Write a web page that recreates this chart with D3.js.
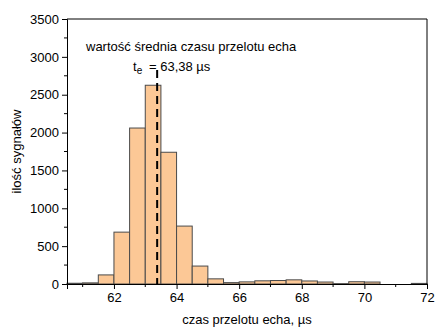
<!DOCTYPE html>
<html>
<head>
<meta charset="utf-8">
<script src="https://cdn.jsdelivr.net/npm/d3@7"></script>
<style>
  body { margin: 0; background: #fff; }
  svg text { font-family: "Liberation Sans", Arial, sans-serif; fill: #000; }
</style>
</head>
<body>
<script>
// histogram bins (left edge, width 0.5 us) and counts
var binStarts = [60.5, 61, 61.5, 62, 62.5, 63, 63.5, 64, 64.5, 65, 65.5, 66, 66.5,
                 67, 67.5, 68, 68.5, 69, 69.5, 70, 70.5, 71, 71.5];
var counts    = [10, 15, 120, 685, 2060, 2625, 1740, 765, 237, 68, 18, 28, 42,
                 46, 55, 40, 26, 5, 30, 26, 0, 0, 8];
var binWidth = 0.5;
var meanValue = 63.38;
var xTicks = [62, 64, 66, 68, 70, 72];
var yTicks = [0, 500, 1000, 1500, 2000, 2500, 3000, 3500];

function createHist () {
  var w = 435, h = 329,
      pL = 67, pR = 427, pT = 19, pB = 284;

  var svg = d3.select("body").append("svg")
    .attr("width", w)
    .attr("height", h);

  var x = d3.scaleLinear().domain([60.5, 72]).range([pL, pR]);
  var y = d3.scaleLinear().domain([0, 3500]).range([pB, pT]);

  // bars
  svg.selectAll("rect.bar")
    .data(counts)
    .enter()
    .append("rect")
    .attr("class", "bar")
    .attr("x", function (d, i) { return x(binStarts[i]); })
    .attr("y", function (d) { return y(d); })
    .attr("width", function (d, i) { return x(binStarts[i] + binWidth) - x(binStarts[i]); })
    .attr("height", function (d) { return pB - y(d); })
    .attr("fill", "#fcc896")
    .attr("stroke", "#4a4a4a")
    .attr("stroke-width", 1);

  // mean line
  svg.append("line")
    .attr("x1", x(meanValue)).attr("x2", x(meanValue))
    .attr("y1", 70).attr("y2", pB)
    .attr("stroke", "#000")
    .attr("stroke-width", 2)
    .attr("stroke-dasharray", "8,5");

  // frame top/right
  svg.append("path")
    .attr("d", "M" + pL + "," + pT + "H" + pR + "V" + pB)
    .attr("fill", "none")
    .attr("stroke", "#000")
    .attr("stroke-width", 1);

  // minor ticks
  var xMinor = d3.range(61, 72, 2);
  svg.selectAll("line.xminor").data(xMinor).enter().append("line")
    .attr("x1", function (d) { return x(d); }).attr("x2", function (d) { return x(d); })
    .attr("y1", pB).attr("y2", pB + 3)
    .attr("stroke", "#000");
  var yMinor = d3.range(250, 3500, 500);
  svg.selectAll("line.yminor").data(yMinor).enter().append("line")
    .attr("y1", function (d) { return y(d); }).attr("y2", function (d) { return y(d); })
    .attr("x1", pL).attr("x2", pL - 3)
    .attr("stroke", "#000");

  var xAxis = d3.axisBottom(x).tickValues(xTicks).tickFormat(d3.format("d"))
    .tickSize(5).tickPadding(4);
  var gx = svg.append("g")
    .attr("transform", "translate(0," + pB + ")")
    .call(xAxis);
  gx.selectAll("text").attr("font-size", 13).attr("font-family", "Liberation Sans, Arial, sans-serif");

  var yAxis = d3.axisLeft(y).tickValues(yTicks).tickFormat(d3.format("d"))
    .tickSize(5).tickPadding(3);
  var gy = svg.append("g")
    .attr("transform", "translate(" + pL + ",0)")
    .call(yAxis);
  gy.selectAll("text").attr("font-size", 13).attr("font-family", "Liberation Sans, Arial, sans-serif");

  // axis titles
  svg.append("text")
    .attr("x", (pL + pR) / 2).attr("y", 324)
    .attr("text-anchor", "middle")
    .attr("font-size", 13)
    .text("czas przelotu echa, \u00b5s");

  svg.append("text")
    .attr("transform", "translate(21," + (pT + pB) / 2 + ") rotate(-90)")
    .attr("text-anchor", "middle")
    .attr("font-size", 13)
    .text("ilość sygnałów");

  // annotation
  svg.append("text")
    .attr("x", 86).attr("y", 51)
    .attr("font-size", 13)
    .text("wartość średnia czasu przelotu echa");

  var ann = svg.append("text")
    .attr("x", 133).attr("y", 71)
    .attr("font-size", 13);
  ann.append("tspan").text("t");
  ann.append("tspan").attr("font-size", 10).attr("dy", 3).text("e");
  ann.append("tspan").attr("x", 149).attr("dy", -3).text("= 63,38 \u00b5s");
}

createHist();
</script>
</body>
</html>
